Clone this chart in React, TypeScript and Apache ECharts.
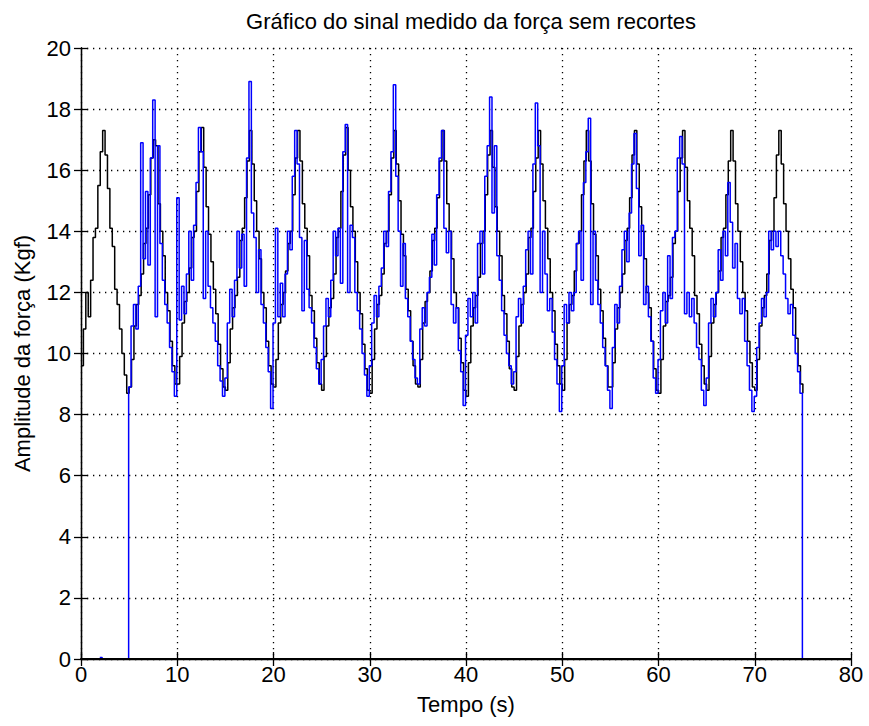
import React, { useEffect, useRef } from "react";
import * as echarts from "echarts";

const titleText = "Gráfico do sinal medido da força sem recortes";
const xName = "Tempo (s)";
const yName = "Amplitude da força (Kgf)";

// black series: samples every 0.25 s starting at t = 0
const blackStart = 0;
const blackStep = 0.25;
const blackValues = [
  9.6, 10.8, 12.0, 11.2, 12.4, 13.8, 14.1, 15.5, 16.6, 17.3, 16.5, 15.4, 14.1, 13.5, 12.1, 11.6, 10.8, 10.0, 9.3, 8.7,
  8.9, 9.8, 10.9, 11.6, 11.9, 12.6, 13.6, 14.1, 15.2, 16.4, 17.0, 16.8, 14.9, 14.0, 13.2, 12.0, 11.4, 10.4, 9.6, 9.0,
  9.0, 9.9, 11.0, 11.7, 12.0, 12.8, 13.8, 14.0, 15.3, 16.6, 17.4, 16.1, 14.8, 13.9, 13.0, 12.1, 11.3, 10.3, 9.5, 8.9,
  8.8, 9.7, 10.8, 11.5, 11.9, 12.5, 13.7, 14.1, 15.1, 16.3, 17.3, 16.2, 15.0, 14.0, 13.1, 12.0, 11.5, 10.4, 9.6, 9.0,
  8.9, 9.8, 11.0, 11.6, 12.0, 12.7, 13.6, 14.0, 15.2, 16.4, 17.3, 16.3, 14.9, 14.1, 13.2, 11.9, 11.4, 10.5, 9.7, 9.0,
  8.8, 9.9, 10.9, 11.5, 11.8, 12.6, 13.8, 14.1, 15.3, 16.5, 17.4, 16.0, 14.8, 14.0, 13.0, 12.0, 11.3, 10.3, 9.5, 8.8,
  8.7, 9.8, 10.8, 11.6, 11.9, 12.6, 13.6, 14.0, 15.2, 16.4, 17.3, 16.2, 15.0, 13.9, 13.2, 12.1, 11.4, 10.4, 9.6, 9.0,
  8.9, 9.8, 11.0, 11.7, 12.0, 12.7, 13.7, 14.1, 15.1, 16.3, 17.3, 16.3, 14.9, 14.0, 13.1, 12.0, 11.5, 10.5, 9.7, 8.8,
  8.6, 9.7, 10.9, 11.5, 11.9, 12.5, 13.6, 14.0, 15.2, 16.5, 17.3, 16.1, 14.8, 14.0, 13.2, 11.9, 11.3, 10.4, 9.5, 8.9,
  8.8, 9.9, 10.9, 11.6, 12.0, 12.6, 13.8, 14.1, 15.3, 16.4, 17.3, 16.2, 15.0, 14.1, 13.1, 12.0, 11.4, 10.3, 9.6, 9.0,
  8.8, 9.8, 11.0, 11.6, 11.9, 12.7, 13.6, 14.0, 15.2, 16.3, 17.3, 16.3, 14.9, 13.9, 13.2, 12.1, 11.4, 10.5, 9.6, 8.9,
  8.9, 9.7, 10.8, 11.5, 12.0, 12.6, 13.7, 14.1, 15.1, 16.5, 17.3, 16.2, 14.8, 14.0, 13.1, 12.0, 11.5, 10.4, 9.5, 8.8,
  8.7, 9.8, 10.9, 11.7, 11.9, 12.5, 13.6, 14.0, 15.3, 16.4, 17.3, 16.1, 15.0, 14.1, 13.2, 11.9, 11.3, 10.3, 9.6, 9.0,
  8.8, 9.9, 11.0, 11.6, 12.0, 12.7, 13.8, 14.1, 15.2, 16.3, 17.3, 16.3, 14.9, 14.0, 13.0, 12.0, 11.4, 10.4, 9.7, 8.9,
  8.8, 9.8, 10.9, 11.5, 11.9, 12.6, 13.7, 14.0, 15.1, 16.5, 17.3, 16.2, 14.9, 14.0, 13.1, 12.1, 11.5, 10.5, 9.6, 9.0,
  8.7,
];

// blue series: samples every 0.25 s starting at t = 1.95
const blueStart = 1.95;
const blueStep = 0.25;
const blueValues = [
  0.05, 0, 0, 0, 0, 0, 0, 0, 0, 0, 0, 0,
  8.9, 10.9, 11.6, 10.8, 12.2, 16.9, 13.1, 15.3, 12.9, 16.4, 18.3, 11.2, 16.8, 13.6, 12.4, 11.6, 11.0, 10.2, 9.4, 8.6,
  15.1, 11.1, 12.2, 11.3, 12.6, 14.0, 12.4, 14.2, 15.6, 17.4, 16.6, 11.8, 14.0, 12.2, 11.5, 11.0, 10.4, 9.6, 9.1, 8.6,
  9.2, 11.0, 12.1, 11.2, 12.4, 14.0, 12.8, 13.9, 12.2, 16.4, 18.9, 14.6, 13.8, 12.0, 13.4, 11.6, 11.0, 10.2, 9.4, 8.2,
  11.0, 14.1, 11.2, 12.3, 11.2, 12.6, 14.0, 13.4, 15.8, 17.3, 16.2, 13.8, 11.4, 13.7, 12.1, 11.5, 11.0, 10.2, 9.5, 9.0,
  9.8, 10.9, 11.8, 11.2, 12.4, 14.0, 13.2, 14.1, 12.3, 16.6, 17.5, 12.0, 14.2, 13.8, 12.0, 11.4, 10.8, 10.0, 9.3, 8.6,
  9.6, 11.0, 11.9, 11.2, 12.2, 12.8, 14.0, 13.5, 15.3, 16.6, 18.8, 15.8, 14.0, 12.2, 13.6, 11.8, 11.2, 10.4, 9.8, 9.2,
  9.0, 10.8, 11.5, 10.9, 12.0, 12.5, 13.9, 12.9, 15.2, 16.4, 17.3, 14.1, 13.3, 14.0, 11.6, 11.0, 11.5, 10.1, 9.4, 8.3,
  10.6, 11.8, 11.2, 12.0, 11.0, 13.6, 14.0, 12.6, 15.8, 16.8, 18.4, 14.6, 16.8, 13.2, 12.4, 11.4, 10.6, 10.0, 9.6, 9.0,
  9.4, 11.2, 11.8, 11.0, 12.2, 13.4, 14.0, 12.6, 16.2, 18.2, 16.8, 12.0, 14.0, 12.6, 11.4, 11.8, 10.7, 9.8, 9.0, 8.1,
  9.6, 11.6, 11.0, 12.0, 11.4, 12.0, 13.6, 14.0, 12.4, 15.6, 16.6, 17.7, 11.6, 14.0, 12.4, 11.6, 11.0, 10.2, 9.6, 8.8,
  8.2, 10.2, 11.6, 11.0, 12.2, 13.4, 14.0, 13.0, 14.6, 16.2, 17.2, 15.4, 13.2, 14.2, 11.6, 12.2, 11.2, 10.4, 9.2, 8.7,
  9.8, 11.4, 12.0, 11.0, 13.2, 11.8, 13.8, 14.0, 16.4, 17.1, 16.2, 11.3, 12.0, 11.2, 11.8, 11.0, 10.2, 9.8, 8.8, 8.3,
  9.2, 11.0, 11.8, 11.2, 12.0, 13.4, 12.4, 14.0, 13.2, 15.6, 14.3, 12.8, 13.6, 11.8, 11.3, 11.8, 10.4, 9.6, 8.8, 8.1,
  8.6, 10.2, 11.0, 11.8, 11.2, 12.0, 14.0, 13.4, 14.0, 13.5, 14.0, 13.2, 12.6, 11.8, 11.3, 11.6, 10.6, 10.0, 9.4, 8.7,
  0,
];

const xTicks = [0, 10, 20, 30, 40, 50, 60, 70, 80];
const yTicks = [0, 2, 4, 6, 8, 10, 12, 14, 16, 18, 20];

const FONT = "'Liberation Sans', Arial, Helvetica, sans-serif";
const FS = 22;

export default function App() {
  const ref = useRef<HTMLDivElement>(null);
  useEffect(() => {
    if (!ref.current) return;
    const chart = echarts.init(ref.current, null, { renderer: "svg" });
    const blackData = blackValues.map((v, i) => [blackStart + i * blackStep, v]);
    const blueData = blueValues.map((v, i) => [blueStart + i * blueStep, v]);
    const gridLine = { show: true, lineStyle: { color: "#000", width: 1.3, type: [1.3, 4.7] as any } };
    const xMin = xTicks[0];
    const xMax = xTicks[xTicks.length - 1];
    const yMin = yTicks[0];
    const yMax = yTicks[yTicks.length - 1];
    const tick = { show: true, inside: true, length: 7, lineStyle: { color: "#000", width: 1.3 } };
    const axLine = { show: true, lineStyle: { color: "#000", width: 1.3 } };
    chart.setOption({
      animation: false,
      backgroundColor: "#fff",
      title: {
        text: titleText,
        left: 466,
        textAlign: "center",
        top: 5,
        textStyle: { fontFamily: FONT, fontSize: FS, fontWeight: "normal", color: "#000" },
      },
      grid: { left: 81, right: 18, top: 48, bottom: 67, show: false },
      xAxis: [
        {
          type: "value",
          min: xMin,
          max: xMax,
          interval: 10,
          z: 10,
          name: xName,
          nameLocation: "middle",
          nameGap: 34,
          nameTextStyle: { fontFamily: FONT, fontSize: FS, color: "#000" },
          axisLine: { show: true, lineStyle: { color: "#000", width: 2.2 } },
          axisTick: tick,
          axisLabel: { fontFamily: FONT, fontSize: FS, color: "#000", margin: 4 },
          splitLine: { show: false },
        },
        {
          type: "value",
          position: "top",
          min: xMin,
          max: xMax,
          interval: 10,
          axisLine: axLine,
          axisTick: tick,
          axisLabel: { show: false },
          splitLine: gridLine,
        },
      ],
      yAxis: [
        {
          type: "value",
          min: yMin,
          max: yMax,
          interval: 2,
          name: yName,
          nameLocation: "middle",
          nameGap: 48,
          nameTextStyle: { fontFamily: FONT, fontSize: FS, color: "#000" },
          axisLine: axLine,
          axisTick: tick,
          axisLabel: { fontFamily: FONT, fontSize: FS, color: "#000", margin: 10 },
          splitLine: gridLine,
        },
        {
          type: "value",
          position: "right",
          min: yMin,
          max: yMax,
          interval: 2,
          axisLine: axLine,
          axisTick: tick,
          axisLabel: { show: false },
          splitLine: { show: false },
        },
      ],
      series: [
        {
          type: "line",
          name: "black",
          data: blackData,
          step: "end",
          showSymbol: false,
          lineStyle: { color: "#000", width: 1.5 },
          itemStyle: { color: "#000" },
        },
        {
          type: "line",
          name: "blue",
          data: blueData,
          step: "end",
          showSymbol: false,
          lineStyle: { color: "#0000ff", width: 1.5 },
          itemStyle: { color: "#0000ff" },
        },
      ],
    });
    return () => chart.dispose();
  }, []);
  return <div ref={ref} style={{ width: 869, height: 726, position: "absolute", left: 0, top: 0 }} />;
}
